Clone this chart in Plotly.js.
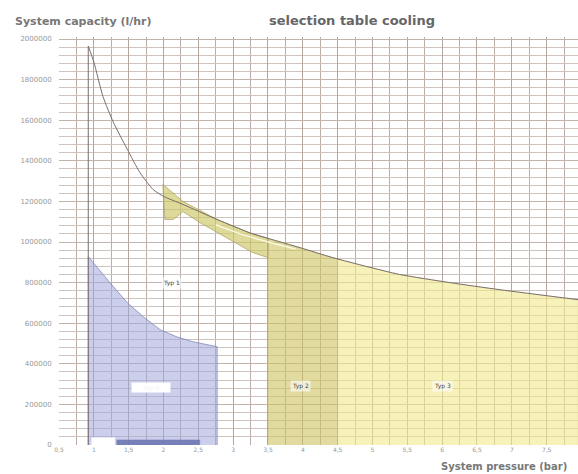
<!DOCTYPE html>
<html>
<head>
<meta charset="utf-8">
<script src="https://cdn.plot.ly/plotly-3.0.1.min.js"></script>
<style>html,body{margin:0;padding:0;background:#fff;}#chart{width:578px;height:474px;}</style>
</head>
<body>
<div id="chart"></div>
<script>
// Vertical limit line at left of the capacity curve
const limX = [0.92, 0.92];
const limY = [0, 1965000];

// Capacity curve (max system capacity vs pressure)
const capX = [0.92, 1.0, 1.13, 1.28, 1.48, 1.66, 1.85, 2.0, 2.28, 2.77, 3.24, 3.5, 3.96, 4.43, 4.92, 5.39, 6.11, 6.83, 7.95];
const capY = [1965000, 1887000, 1718000, 1590000, 1457000, 1343000, 1259000, 1225000, 1185000, 1111000, 1045000, 1018000, 972000, 923000, 879000, 840000, 800000, 765000, 716000];

// Yellow band (wedge) between 2 and 3.5 bar
const bandX = [1.99, 2.28, 2.77, 3.24, 3.5, 3.5, 3.28, 3.0, 2.52, 2.28, 2.14, 2.02, 1.99];
const bandY = [1284000, 1200000, 1111000, 1045000, 1018000, 923000, 948000, 1002000, 1096000, 1150000, 1111000, 1111000, 1284000];

// Dark yellow region 3.5 - 4.5 bar
const darkX = [3.5, 3.5, 3.96, 4.5, 4.5];
const darkY = [0, 1018000, 972000, 916000, 0];

// Light yellow region 4.5 bar - right edge
const lightX = [4.5, 4.5, 4.92, 5.39, 6.11, 6.83, 7.95, 7.95];
const lightY = [0, 916000, 879000, 840000, 800000, 765000, 716000, 0];

// Blue region
const blueX = [0.92, 0.92, 1.23, 1.48, 1.71, 1.95, 2.19, 2.42, 2.77, 2.77];
const blueY = [0, 928000, 800000, 701000, 632000, 568000, 533000, 509000, 484000, 0];

// Small bars at bottom of blue region
const barDarkX = [1.33, 1.33, 2.52, 2.52];
const barDarkY = [0, 25000, 25000, 0];
const barWhiteX = [0.97, 0.97, 1.3, 1.3];
const barWhiteY = [0, 36000, 36000, 0];

// Inner light line in the band
const innerX = [2.75, 3.1, 3.5, 3.9];
const innerY = [1085000, 1040000, 1000000, 965000];

// Ticks
const xTickVals = [0.5, 1, 1.5, 2, 2.5, 3, 3.5, 4, 4.5, 5, 5.5, 6, 6.5, 7, 7.5];
const xTickText = ['0,5', '1', '1,5', '2', '2,5', '3', '3,5', '4', '4,5', '5', '5,5', '6', '6,5', '7', '7,5'];
const yTickVals = [0, 200000, 400000, 600000, 800000, 1000000, 1200000, 1400000, 1600000, 1800000, 2000000];
const yTickText = ['0', '200000', '400000', '600000', '800000', '1000000', '1200000', '1400000', '1600000', '1800000', '2000000'];

// Labels
const labelText = ['Typ 1', 'Typ 2', 'Typ 3'];
const labelX = [2.12, 3.96, 6.0];
const labelY = [800000, 291000, 291000];

const FONT = 'DejaVu Sans, Liberation Sans, Arial, sans-serif';

const poly = (x, y, fill, line, lw) => ({
  type: 'scatter', mode: 'lines', x: x, y: y, fill: 'toself',
  fillcolor: fill, line: {color: line, width: lw}, hoverinfo: 'skip', showlegend: false
});

const traces = [
  poly(blueX, blueY, 'rgba(160,168,220,0.55)', 'rgba(120,128,180,0.9)', 0.8),
  poly(darkX, darkY, 'rgba(205,195,95,0.6)', 'rgba(180,170,90,0.6)', 0.5),
  poly(lightX, lightY, 'rgba(242,232,140,0.6)', 'rgba(220,210,130,0.5)', 0.5),
  poly(bandX, bandY, 'rgba(205,198,100,0.65)', 'rgba(160,150,90,0.8)', 0.8),
  poly(barDarkX, barDarkY, 'rgba(110,120,180,0.9)', 'rgba(110,120,180,0.9)', 0.5),
  poly(barWhiteX, barWhiteY, '#ffffff', '#ffffff', 0.5),
  {type: 'scatter', mode: 'lines', x: innerX, y: innerY, line: {color: 'rgba(255,255,235,0.85)', width: 1.5}, hoverinfo: 'skip', showlegend: false},
  {type: 'scatter', mode: 'lines', x: limX, y: limY, line: {color: '#7a6e6a', width: 1}, hoverinfo: 'skip', showlegend: false},
  {type: 'scatter', mode: 'lines', x: capX, y: capY, line: {color: '#7a6e6a', width: 1, shape: 'spline', smoothing: 0.6}, hoverinfo: 'skip', showlegend: false}
];

const W = 578, H = 474, ML = 59, MR = 0, MT = 37, MB = 29;
const pw = W - ML - MR, ph = H - MT - MB;

const annotations = labelText.map((t, i) => ({
  x: labelX[i], y: labelY[i], xref: 'x', yref: 'y', text: t, showarrow: false,
  font: {family: FONT, size: 6, color: '#444'},
  bgcolor: 'rgba(255,255,255,0.6)'
}));
annotations.push({
  x: 1.82, y: 284000, xref: 'x', yref: 'y', text: 'Typ 0', showarrow: false,
  width: 38, height: 9,
  font: {family: FONT, size: 6, color: '#f2f2f6'},
  bgcolor: '#ffffff', borderpad: 0
});
annotations.push({
  x: (13 - ML) / pw, y: (H - MB - 22) / ph, xref: 'paper', yref: 'paper',
  xanchor: 'left', yanchor: 'middle',
  text: '<b>System capacity (l/hr)</b>', showarrow: false,
  font: {family: FONT, size: 11, color: '#777'}
});
annotations.push({
  x: (439 - ML) / pw, y: (H - MB - 466) / ph, xref: 'paper', yref: 'paper',
  xanchor: 'left', yanchor: 'middle',
  text: '<b>System pressure (bar)</b>', showarrow: false,
  font: {family: FONT, size: 10, color: '#777'}
});

const layout = {
  width: W, height: H,
  margin: {l: ML, r: MR, t: MT, b: MB, pad: 0},
  paper_bgcolor: '#ffffff', plot_bgcolor: '#ffffff',
  title: {
    text: '<b>selection table cooling</b>',
    x: 352 / W, xref: 'container', xanchor: 'center',
    y: 1 - 20 / H, yref: 'container', yanchor: 'middle',
    font: {family: FONT, size: 13, color: '#666'}
  },
  xaxis: {
    range: [0.5, 7.95], tickvals: xTickVals, ticktext: xTickText,
    showgrid: true, gridcolor: '#b4a69e', gridwidth: 1,
    minor: {dtick: 0.25, tick0: 0.5, showgrid: true, gridcolor: '#bcaea6', gridwidth: 1},
    zeroline: false, showline: false, ticks: '',
    tickfont: {family: FONT, size: 6, color: '#999'},
    fixedrange: true
  },
  yaxis: {
    range: [0, 2010000], tickvals: yTickVals, ticktext: yTickText,
    showgrid: true, gridcolor: '#c0b4ac', gridwidth: 1,
    minor: {dtick: 40000, tick0: 0, showgrid: true, gridcolor: '#cfc4bd', gridwidth: 1},
    zeroline: false, showline: false, ticks: 'outside', ticklen: 5, tickcolor: 'rgba(0,0,0,0)',
    tickfont: {family: FONT, size: 7, color: '#999'},
    fixedrange: true
  },
  annotations: annotations,
  showlegend: false
};

Plotly.newPlot('chart', traces, layout, {staticPlot: true, displayModeBar: false});
</script>
</body>
</html>
